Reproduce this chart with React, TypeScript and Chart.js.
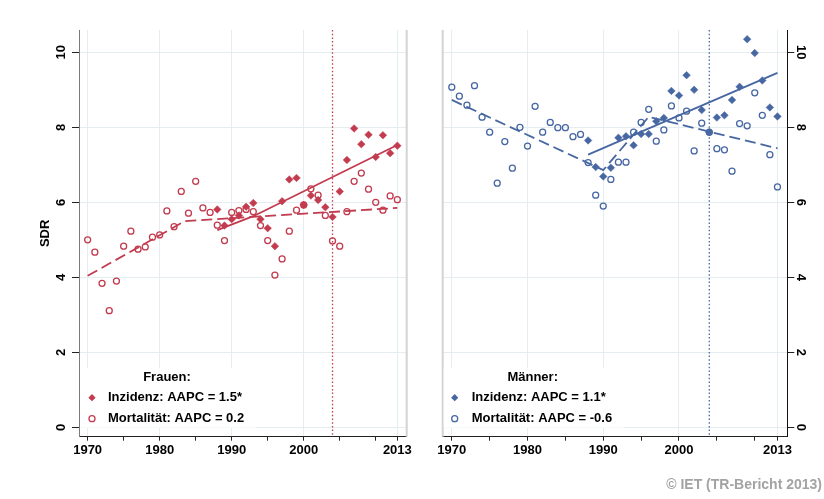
import React, { useEffect, useRef } from "react";
import { Chart, registerables } from "chart.js";

Chart.register(...registerables);

// ---------- data ----------
const MORT_YEARS = [
  1970, 1971, 1972, 1973, 1974, 1975, 1976, 1977, 1978, 1979,
  1980, 1981, 1982, 1983, 1984, 1985, 1986, 1987, 1988, 1989,
  1990, 1991, 1992, 1993, 1994, 1995, 1996, 1997, 1998, 1999,
  2000, 2001, 2002, 2003, 2004, 2005, 2006, 2007, 2008, 2009,
  2010, 2011, 2012, 2013,
];
const INC_YEARS = [
  1988, 1989, 1990, 1991, 1992, 1993, 1994, 1995, 1996, 1997,
  1998, 1999, 2000, 2001, 2002, 2003, 2004, 2005, 2006, 2007,
  2008, 2009, 2010, 2011, 2012, 2013,
];

// Frauen
const MORT_F = [
  5.0, 4.67, 3.84, 3.11, 3.9, 4.83, 5.23, 4.75, 4.81, 5.07,
  5.13, 5.77, 5.35, 6.29, 5.71, 6.56, 5.85, 5.73, 5.39, 4.98,
  5.73, 5.78, 5.81, 5.75, 5.38, 4.98, 4.06, 4.49, 5.23, 5.79,
  5.93, 6.36, 6.19, 5.65, 4.97, 4.83, 5.75, 6.56, 6.78, 6.35,
  6.0, 5.79, 6.17, 6.07,
];
const INC_F = [
  5.81, 5.38, 5.55, 5.65, 5.88, 5.98, 5.55, 5.31, 4.83, 6.03,
  6.61, 6.65, 5.93, 6.18, 6.06, 5.87, 5.61, 6.29, 7.13, 7.97,
  7.55, 7.8, 7.21, 7.79, 7.31, 7.51,
];
const TREND_INC_F_YEARS = [1988, 1993, 2013];
const TREND_INC_F = [5.26, 5.63, 7.53];
const TREND_MORT_F_YEARS = [1970, 1983.5, 2013];
const TREND_MORT_F = [4.04, 5.5, 5.85];

// Männer
const MORT_M = [
  9.07, 8.83, 8.59, 9.11, 8.27, 7.87, 6.51, 7.62, 6.91, 8.0,
  7.5, 8.56, 7.87, 8.13, 7.99, 7.99, 7.75, 7.81, 7.06, 6.19,
  5.9, 6.61, 7.07, 7.07, 7.87, 8.13, 8.48, 7.63, 7.93, 8.57,
  8.25, 8.43, 7.37, 8.11, 7.87, 7.43, 7.4, 6.83, 8.1, 8.04,
  8.92, 8.32, 7.27, 6.41,
];
const INC_M = [
  7.65, 6.94, 6.69, 6.92, 7.72, 7.76, 7.52, 7.82, 7.82, 8.16,
  8.25, 8.97, 8.85, 9.39, 9.0, 8.46, 7.87, 8.26, 8.32, 8.73,
  9.08, 10.35, 9.98, 9.25, 8.53, 8.29,
];
const TREND_INC_M_YEARS = [1988, 2013];
const TREND_INC_M = [7.27, 9.45];
const TREND_MORT_M_YEARS = [1970, 1990, 1996, 2013];
const TREND_MORT_M = [8.73, 6.86, 8.28, 7.44];

const X_TICKS = [1970, 1975, 1980, 1985, 1990, 1995, 2000, 2005, 2010, 2013];
const X_LABELS = [1970, 1980, 1990, 2000, 2013];
const Y_TICKS = [0, 2, 4, 6, 8, 10];
const CUT_YEAR = 2004;

const LEGEND_F = { title: "Frauen:", inc: "Inzidenz: AAPC = 1.5*", mort: "Mortalität: AAPC = 0.2" };
const LEGEND_M = { title: "Männer:", inc: "Inzidenz: AAPC = 1.1*", mort: "Mortalität: AAPC = -0.6" };

// ---------- style ----------
const FONT = "'Liberation Sans', Arial, Helvetica, sans-serif";
const RED = "#c23b4e";
const BLUE = "#4767a3";
const GRID = "#e4edf0";
const W = 824;
const H = 499;

const pts = (xs: number[], ys: number[]) => xs.map((x, i) => ({ x, y: ys[i] }));

function drawDiamond(ctx: CanvasRenderingContext2D, x: number, y: number, r: number, color: string) {
  ctx.beginPath();
  ctx.moveTo(x - r, y);
  ctx.lineTo(x, y - r);
  ctx.lineTo(x + r, y);
  ctx.lineTo(x, y + r);
  ctx.closePath();
  ctx.fillStyle = color;
  ctx.fill();
}
function drawCircle(ctx: CanvasRenderingContext2D, x: number, y: number, r: number, color: string) {
  ctx.beginPath();
  ctx.arc(x, y, r, 0, Math.PI * 2);
  ctx.strokeStyle = color;
  ctx.lineWidth = 1.3;
  ctx.stroke();
}

type Side = "left" | "right";

function makeConfig(side: Side, color: string, mort: number[], inc: number[],
  tIncX: number[], tInc: number[], tMortX: number[], tMort: number[], legend: any): any {
  const isLeft = side === "left";
  const decor = {
    id: "decor" + side,
    beforeDatasetsDraw(chart: any) {
      const { ctx, chartArea: a, scales } = chart;
      const xs = scales.x;
      ctx.save();
      // panel edge line
      ctx.strokeStyle = "#d3d3d3";
      ctx.lineWidth = 2;
      const ex = isLeft ? a.right : a.left;
      ctx.beginPath();
      ctx.moveTo(ex, a.top);
      ctx.lineTo(ex, a.bottom);
      ctx.stroke();
      // cut line
      const cx = xs.getPixelForValue(CUT_YEAR);
      ctx.strokeStyle = color;
      ctx.lineWidth = 1.3;
      ctx.setLineDash([1.5, 2.2]);
      ctx.beginPath();
      ctx.moveTo(cx, a.top);
      ctx.lineTo(cx, a.bottom);
      ctx.stroke();
      ctx.setLineDash([]);
      // legend box
      const bx = a.left + (isLeft ? 1 : 1);
      const bw = isLeft ? 176 : 180;
      ctx.fillStyle = "#ffffff";
      ctx.fillRect(bx, a.bottom - 69, bw, 60);
      ctx.fillStyle = "#000";
      ctx.font = `bold 13px ${FONT}`;
      ctx.textBaseline = "middle";
      ctx.textAlign = "center";
      ctx.fillText(legend.title, a.left + (isLeft ? 88 : 90), a.bottom - 59);
      ctx.textAlign = "left";
      const mx = a.left + (isLeft ? 13 : 12);
      const tx = a.left + 29;
      const r1 = a.bottom - 39;
      const r2 = a.bottom - 18;
      drawDiamond(ctx, mx, r1, 3.6, color);
      drawCircle(ctx, mx, r2, 3, color);
      ctx.fillStyle = "#000";
      ctx.fillText(legend.inc, tx, r1);
      ctx.fillText(legend.mort, tx, r2);
      ctx.restore();
    },
    afterDraw(chart: any) {
      const { ctx, chartArea: a, scales } = chart;
      const ys = scales.y;
      ctx.save();
      ctx.fillStyle = "#000";
      ctx.font = `bold 13px ${FONT}`;
      ctx.textAlign = "center";
      ctx.textBaseline = "middle";
      for (const v of Y_TICKS) {
        const py = ys.getPixelForValue(v);
        ctx.save();
        if (isLeft) {
          ctx.translate(a.left - 17.3, py);
          ctx.rotate(-Math.PI / 2);
        } else {
          ctx.translate(a.right + 13.4, py);
          ctx.rotate(Math.PI / 2);
        }
        ctx.fillText(String(v), 0, 0);
        ctx.restore();
      }
      if (isLeft) {
        ctx.save();
        ctx.translate(45, (a.top + a.bottom) / 2);
        ctx.rotate(-Math.PI / 2);
        ctx.fillText("SDR", 0, 0);
        ctx.restore();
      } else {
        ctx.fillStyle = "#a3a3a3";
        ctx.font = `bold 14px ${FONT}`;
        ctx.textAlign = "right";
        ctx.fillText("© IET (TR-Bericht 2013)", W - 2, 485);
      }
      ctx.restore();
    },
  };

  return {
    type: "scatter",
    data: {
      datasets: [
        {
          label: "Inzidenz",
          data: pts(INC_YEARS, inc),
          pointStyle: "rectRot",
          pointRadius: 3.8,
          backgroundColor: color,
          borderColor: color,
          borderWidth: 0.5,
          showLine: false,
        },
        {
          label: "Mortalität",
          data: pts(MORT_YEARS, mort),
          pointStyle: "circle",
          pointRadius: 3,
          backgroundColor: "rgba(0,0,0,0)",
          borderColor: color,
          borderWidth: 1.3,
          showLine: false,
        },
        {
          label: "Trend Inzidenz",
          data: pts(tIncX, tInc),
          showLine: true,
          pointRadius: 0,
          borderColor: color,
          borderWidth: 1.8,
          fill: false,
          tension: 0,
        },
        {
          label: "Trend Mortalität",
          data: pts(tMortX, tMort),
          showLine: true,
          pointRadius: 0,
          borderColor: color,
          borderWidth: 1.8,
          borderDash: [11, 5],
          fill: false,
          tension: 0,
        },
      ],
    },
    options: {
      responsive: false,
      animation: false,
      devicePixelRatio: 1,
      events: [],
      layout: {
        padding: isLeft
          ? { left: 0, right: W - 406.7, top: 30, bottom: 0 }
          : { left: 442.7, right: 0, top: 30, bottom: 0 },
      },
      plugins: { legend: { display: false }, tooltip: { enabled: false }, title: { display: false } },
      scales: {
        x: {
          type: "linear",
          min: 1968.8,
          max: 2014.3,
          afterBuildTicks: (s: any) => {
            s.ticks = X_TICKS.map((v) => ({ value: v }));
          },
          afterFit: (s: any) => {
            s.height = 62.3;
          },
          ticks: {
            autoSkip: false,
            maxRotation: 0,
            minRotation: 0,
            padding: 2,
            color: "#000",
            font: { family: FONT, size: 13, weight: "bold" },
            callback: (v: any) => (X_LABELS.includes(Number(v)) ? String(v) : ""),
          },
          grid: {
            color: (c: any) => (c.tick && X_LABELS.includes(c.tick.value) ? GRID : "rgba(0,0,0,0)"),
            tickColor: "#222",
            tickLength: 4,
            drawTicks: true,
            lineWidth: 1,
          },
          border: { color: "#222", width: 1 },
        },
        y: {
          type: "linear",
          position: isLeft ? "left" : "right",
          min: -0.25,
          max: 10.595,
          afterBuildTicks: (s: any) => {
            s.ticks = Y_TICKS.map((v) => ({ value: v }));
          },
          afterFit: (s: any) => {
            s.width = isLeft ? 79 : 36.7;
          },
          ticks: { display: false },
          grid: { color: GRID, tickColor: "#222", tickLength: 7, drawTicks: true, lineWidth: 1 },
          border: { color: isLeft ? "#7a7a7a" : "#111", width: 1 },
        },
      },
    },
    plugins: [decor],
  };
}

export default function App() {
  const leftRef = useRef<HTMLCanvasElement | null>(null);
  const rightRef = useRef<HTMLCanvasElement | null>(null);

  useEffect(() => {
    const c1 = new Chart(
      leftRef.current as HTMLCanvasElement,
      makeConfig("left", RED, MORT_F, INC_F, TREND_INC_F_YEARS, TREND_INC_F, TREND_MORT_F_YEARS, TREND_MORT_F, LEGEND_F)
    );
    const c2 = new Chart(
      rightRef.current as HTMLCanvasElement,
      makeConfig("right", BLUE, MORT_M, INC_M, TREND_INC_M_YEARS, TREND_INC_M, TREND_MORT_M_YEARS, TREND_MORT_M, LEGEND_M)
    );
    return () => {
      c1.destroy();
      c2.destroy();
    };
  }, []);

  const cStyle: React.CSSProperties = { position: "absolute", left: 0, top: 0, width: W, height: H };
  return (
    <div style={{ position: "absolute", left: 0, top: 0, width: W, height: H, background: "#fff" }}>
      <canvas ref={leftRef} width={W} height={H} style={cStyle} />
      <canvas ref={rightRef} width={W} height={H} style={cStyle} />
    </div>
  );
}
